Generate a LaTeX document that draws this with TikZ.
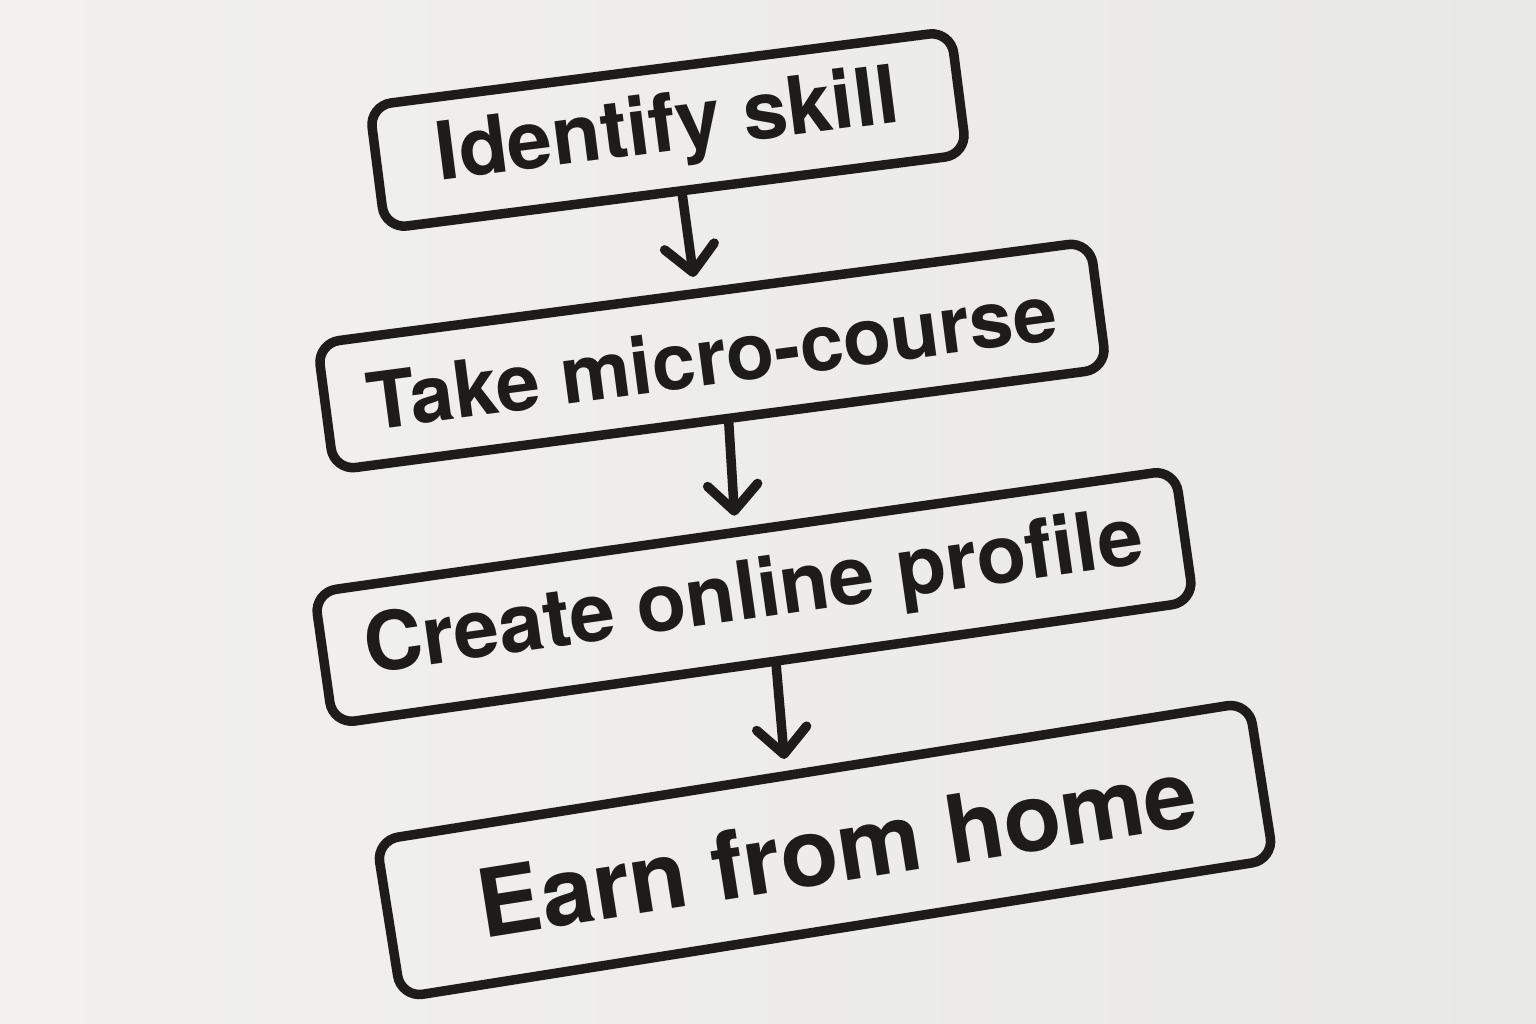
\documentclass[tikz,border=0pt]{standalone}
\usepackage{fontspec}
\setmainfont{TeX Gyre Heros}
\usetikzlibrary{arrows.meta,calc}
\definecolor{ink}{HTML}{1E1C1A}
\definecolor{paperL}{HTML}{F2F1EF}
\definecolor{paperR}{HTML}{E8E8E6}
\begin{document}
\begin{tikzpicture}[x=0.01cm,y=-0.01cm,
  stepbox/.style={draw=ink, line width=2.7pt, rounded corners=0.22cm, inner sep=0pt, text=ink},
  arr/.style={draw=ink, line width=2.7pt, line cap=round,
    -{Straight Barb[length=2.6mm,width=5mm,round]}, shorten >=0.12cm}]
\shade[left color=paperL, right color=paperR] (0,0) rectangle (1536,1024);
\useasboundingbox (0,0) rectangle (1536,1024);
\node[stepbox, rotate=7.3, minimum width=5.86cm, minimum height=1.24cm,
  font=\bfseries\fontsize{22.9pt}{26pt}\selectfont] (b1) at (668,130) {Identify skill};
\node[stepbox, rotate=7.5, minimum width=7.79cm, minimum height=1.28cm,
  font=\bfseries\fontsize{22.4pt}{26pt}\selectfont] (b2) at (712,356) {Take micro-course};
\node[stepbox, rotate=8.1, minimum width=8.69cm, minimum height=1.33cm,
  font=\bfseries\fontsize{23.1pt}{26pt}\selectfont] (b3) at (754,597) {Create online profile};
\node[stepbox, rotate=9, minimum width=8.83cm, minimum height=1.59cm,
  font=\bfseries\fontsize{26.9pt}{30pt}\selectfont] (b4) at (825,850) {\hspace{0.24cm}Earn from home};
\draw[arr] ($(b1.south west)!0.51!(b1.south east)$) -- ($(b2.north west)!0.49!(b2.north east)$);
\draw[arr] ($(b2.south west)!0.51!(b2.south east)$) -- ($(b3.north west)!0.49!(b3.north east)$);
\draw[arr] ($(b3.south west)!0.514!(b3.south east)$) -- ($(b4.north west)!0.47!(b4.north east)$);
\end{tikzpicture}
\end{document}
